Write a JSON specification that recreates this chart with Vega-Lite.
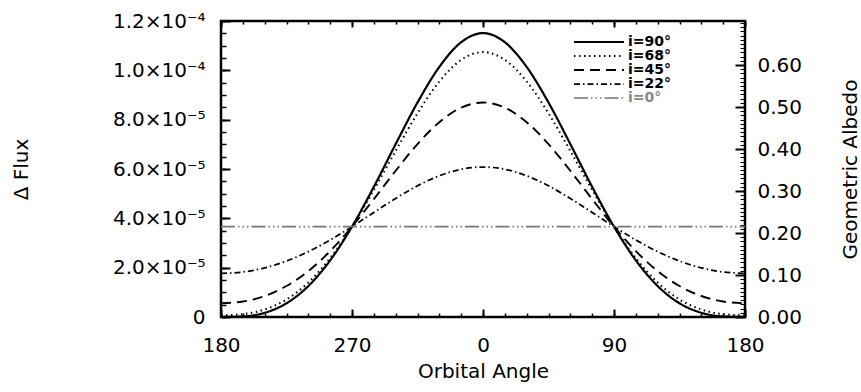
{
  "$schema": "https://vega.github.io/schema/vega-lite/v6.json",
  "width": 524,
  "height": 296,
  "autosize": {"type": "none"},
  "padding": {"left": 221, "top": 21, "right": 116, "bottom": 75},
  "background": "white",
  "config": {
    "font": "DejaVu Sans",
    "view": {"stroke": "#000000", "strokeWidth": 2.5, "strokeOpacity": 1},
    "axis": {
      "grid": false,
      "domain": false,
      "labelFont": "DejaVu Sans",
      "titleFont": "DejaVu Sans",
      "labelFontSize": 20,
      "titleFontSize": 20,
      "labelColor": "black",
      "titleColor": "black",
      "titleFontWeight": "normal",
      "tickColor": "#000000",
      "tickWidth": 2,
      "tickOpacity": 1,
      "labelFlush": false,
      "labelOverlap": false
    }
  },
  "datasets": {
    "curves": [
      {"angle": -180, "flux": 0, "inclination": "i=90°"},
      {"angle": -165, "flux": 0.022e-5, "inclination": "i=90°"},
      {"angle": -150, "flux": 0.171e-5, "inclination": "i=90°"},
      {"angle": -135, "flux": 0.556e-5, "inclination": "i=90°"},
      {"angle": -120, "flux": 1.255e-5, "inclination": "i=90°"},
      {"angle": -105, "flux": 2.297e-5, "inclination": "i=90°"},
      {"angle": -90, "flux": 3.664e-5, "inclination": "i=90°"},
      {"angle": -75, "flux": 5.276e-5, "inclination": "i=90°"},
      {"angle": -60, "flux": 7.010e-5, "inclination": "i=90°"},
      {"angle": -45, "flux": 8.695e-5, "inclination": "i=90°"},
      {"angle": -30, "flux": 10.138e-5, "inclination": "i=90°"},
      {"angle": -15, "flux": 11.139e-5, "inclination": "i=90°"},
      {"angle": 0, "flux": 11.510e-5, "inclination": "i=90°"},
      {"angle": 15, "flux": 11.139e-5, "inclination": "i=90°"},
      {"angle": 30, "flux": 10.138e-5, "inclination": "i=90°"},
      {"angle": 45, "flux": 8.695e-5, "inclination": "i=90°"},
      {"angle": 60, "flux": 7.010e-5, "inclination": "i=90°"},
      {"angle": 75, "flux": 5.276e-5, "inclination": "i=90°"},
      {"angle": 90, "flux": 3.664e-5, "inclination": "i=90°"},
      {"angle": 105, "flux": 2.297e-5, "inclination": "i=90°"},
      {"angle": 120, "flux": 1.255e-5, "inclination": "i=90°"},
      {"angle": 135, "flux": 0.556e-5, "inclination": "i=90°"},
      {"angle": 150, "flux": 0.171e-5, "inclination": "i=90°"},
      {"angle": 165, "flux": 0.022e-5, "inclination": "i=90°"},
      {"angle": 180, "flux": 0, "inclination": "i=90°"},

      {"angle": -180, "flux": 0.068e-5, "inclination": "i=68°"},
      {"angle": -165, "flux": 0.116e-5, "inclination": "i=68°"},
      {"angle": -150, "flux": 0.305e-5, "inclination": "i=68°"},
      {"angle": -135, "flux": 0.711e-5, "inclination": "i=68°"},
      {"angle": -120, "flux": 1.397e-5, "inclination": "i=68°"},
      {"angle": -105, "flux": 2.388e-5, "inclination": "i=68°"},
      {"angle": -90, "flux": 3.664e-5, "inclination": "i=68°"},
      {"angle": -75, "flux": 5.151e-5, "inclination": "i=68°"},
      {"angle": -60, "flux": 6.733e-5, "inclination": "i=68°"},
      {"angle": -45, "flux": 8.256e-5, "inclination": "i=68°"},
      {"angle": -30, "flux": 9.548e-5, "inclination": "i=68°"},
      {"angle": -15, "flux": 10.425e-5, "inclination": "i=68°"},
      {"angle": 0, "flux": 10.740e-5, "inclination": "i=68°"},
      {"angle": 15, "flux": 10.425e-5, "inclination": "i=68°"},
      {"angle": 30, "flux": 9.548e-5, "inclination": "i=68°"},
      {"angle": 45, "flux": 8.256e-5, "inclination": "i=68°"},
      {"angle": 60, "flux": 6.733e-5, "inclination": "i=68°"},
      {"angle": 75, "flux": 5.151e-5, "inclination": "i=68°"},
      {"angle": 90, "flux": 3.664e-5, "inclination": "i=68°"},
      {"angle": 105, "flux": 2.388e-5, "inclination": "i=68°"},
      {"angle": 120, "flux": 1.397e-5, "inclination": "i=68°"},
      {"angle": 135, "flux": 0.711e-5, "inclination": "i=68°"},
      {"angle": 150, "flux": 0.305e-5, "inclination": "i=68°"},
      {"angle": 165, "flux": 0.116e-5, "inclination": "i=68°"},
      {"angle": 180, "flux": 0.068e-5, "inclination": "i=68°"},

      {"angle": -180, "flux": 0.556e-5, "inclination": "i=45°"},
      {"angle": -165, "flux": 0.627e-5, "inclination": "i=45°"},
      {"angle": -150, "flux": 0.851e-5, "inclination": "i=45°"},
      {"angle": -135, "flux": 1.255e-5, "inclination": "i=45°"},
      {"angle": -120, "flux": 1.860e-5, "inclination": "i=45°"},
      {"angle": -105, "flux": 2.671e-5, "inclination": "i=45°"},
      {"angle": -90, "flux": 3.664e-5, "inclination": "i=45°"},
      {"angle": -75, "flux": 4.778e-5, "inclination": "i=45°"},
      {"angle": -60, "flux": 5.930e-5, "inclination": "i=45°"},
      {"angle": -45, "flux": 7.010e-5, "inclination": "i=45°"},
      {"angle": -30, "flux": 7.899e-5, "inclination": "i=45°"},
      {"angle": -15, "flux": 8.489e-5, "inclination": "i=45°"},
      {"angle": 0, "flux": 8.695e-5, "inclination": "i=45°"},
      {"angle": 15, "flux": 8.489e-5, "inclination": "i=45°"},
      {"angle": 30, "flux": 7.899e-5, "inclination": "i=45°"},
      {"angle": 45, "flux": 7.010e-5, "inclination": "i=45°"},
      {"angle": 60, "flux": 5.930e-5, "inclination": "i=45°"},
      {"angle": 75, "flux": 4.778e-5, "inclination": "i=45°"},
      {"angle": 90, "flux": 3.664e-5, "inclination": "i=45°"},
      {"angle": 105, "flux": 2.671e-5, "inclination": "i=45°"},
      {"angle": 120, "flux": 1.860e-5, "inclination": "i=45°"},
      {"angle": 135, "flux": 1.255e-5, "inclination": "i=45°"},
      {"angle": 150, "flux": 0.851e-5, "inclination": "i=45°"},
      {"angle": 165, "flux": 0.627e-5, "inclination": "i=45°"},
      {"angle": 180, "flux": 0.556e-5, "inclination": "i=45°"},

      {"angle": -180, "flux": 1.768e-5, "inclination": "i=22°"},
      {"angle": -165, "flux": 1.824e-5, "inclination": "i=22°"},
      {"angle": -150, "flux": 1.991e-5, "inclination": "i=22°"},
      {"angle": -135, "flux": 2.269e-5, "inclination": "i=22°"},
      {"angle": -120, "flux": 2.651e-5, "inclination": "i=22°"},
      {"angle": -105, "flux": 3.123e-5, "inclination": "i=22°"},
      {"angle": -90, "flux": 3.664e-5, "inclination": "i=22°"},
      {"angle": -75, "flux": 4.239e-5, "inclination": "i=22°"},
      {"angle": -60, "flux": 4.807e-5, "inclination": "i=22°"},
      {"angle": -45, "flux": 5.318e-5, "inclination": "i=22°"},
      {"angle": -30, "flux": 5.725e-5, "inclination": "i=22°"},
      {"angle": -15, "flux": 5.989e-5, "inclination": "i=22°"},
      {"angle": 0, "flux": 6.080e-5, "inclination": "i=22°"},
      {"angle": 15, "flux": 5.989e-5, "inclination": "i=22°"},
      {"angle": 30, "flux": 5.725e-5, "inclination": "i=22°"},
      {"angle": 45, "flux": 5.318e-5, "inclination": "i=22°"},
      {"angle": 60, "flux": 4.807e-5, "inclination": "i=22°"},
      {"angle": 75, "flux": 4.239e-5, "inclination": "i=22°"},
      {"angle": 90, "flux": 3.664e-5, "inclination": "i=22°"},
      {"angle": 105, "flux": 3.123e-5, "inclination": "i=22°"},
      {"angle": 120, "flux": 2.651e-5, "inclination": "i=22°"},
      {"angle": 135, "flux": 2.269e-5, "inclination": "i=22°"},
      {"angle": 150, "flux": 1.991e-5, "inclination": "i=22°"},
      {"angle": 165, "flux": 1.824e-5, "inclination": "i=22°"},
      {"angle": 180, "flux": 1.768e-5, "inclination": "i=22°"},

      {"angle": -180, "flux": 3.664e-5, "inclination": "i=0°"},
      {"angle": 180, "flux": 3.664e-5, "inclination": "i=0°"}
    ]
  },
  "data": {"name": "curves"},
  "resolve": {
    "scale": {"y": "independent"},
    "axis": {"x": "independent", "y": "independent"}
  },
  "layer": [
    {
      "mark": {"type": "line", "interpolate": "monotone"},
      "encoding": {
        "x": {
          "field": "angle", "type": "quantitative",
          "scale": {"domain": [-180, 180], "nice": false, "zero": false},
          "axis": {
            "orient": "bottom",
            "values": [-180, -90, 0, 90, 180],
            "labelExpr": "'' + (datum.value < 0 ? datum.value + 360 : datum.value)",
            "offset": -8,
            "tickSize": 8,
            "labelPadding": 18,
            "title": "Orbital Angle",
            "titlePadding": 6
          }
        },
        "y": {
          "field": "flux", "type": "quantitative",
          "scale": {"domain": [0, 0.00012], "nice": false, "zero": false},
          "axis": {
            "orient": "left",
            "values": [0, 0.00002, 0.00004, 0.00006, 0.00008, 0.0001, 0.00012],
            "labelExpr": "datum.value < 1e-6 ? '0' : datum.value < 9e-5 ? format(datum.value * 1e5, '.1f') + '×10⁻⁵' : format(datum.value * 1e4, '.1f') + '×10⁻⁴'",
            "offset": -9,
            "tickSize": 9,
            "labelPadding": 16,
            "title": "Δ Flux",
            "titlePadding": 81
          }
        },
        "strokeDash": {
          "field": "inclination", "type": "nominal",
          "scale": {
            "domain": ["i=90°", "i=68°", "i=45°", "i=22°", "i=0°"],
            "range": [[1, 0], [1.5, 3.5], [10, 6], [6, 3, 1.5, 3], [14, 3, 1.5, 3, 1.5, 3, 1.5, 3]]
          },
          "legend": {
            "orient": "none",
            "legendX": 371,
            "legendY": 14,
            "title": null,
            "padding": 0,
            "symbolType": "M-5,0H5",
            "symbolSize": 100,
            "labelOffset": 22,
            "rowPadding": 0,
            "labelFont": "DejaVu Sans",
            "labelFontSize": 14,
            "labelFontWeight": "bold",
            "labelColor": "black",
            "encode": {
              "labels": {"update": {"fill": {"signal": "datum.label == 'i=0°' ? '#888888' : '#000000'"}}}
            }
          }
        },
        "strokeWidth": {
          "field": "inclination", "type": "nominal",
          "scale": {
            "domain": ["i=90°", "i=68°", "i=45°", "i=22°", "i=0°"],
            "range": [2.2, 1.6, 1.5, 1.2, 1.2]
          }
        },
        "color": {
          "field": "inclination", "type": "nominal",
          "scale": {
            "domain": ["i=90°", "i=68°", "i=45°", "i=22°", "i=0°"],
            "range": ["#000000", "#000000", "#000000", "#000000", "#777777"]
          }
        }
      }
    },
    {
      "mark": {"type": "line", "opacity": 0},
      "encoding": {
        "x": {
          "field": "angle", "type": "quantitative",
          "axis": {
            "orient": "bottom",
            "values": [-180, -165, -150, -135, -120, -105, -90, -75, -60, -45, -30, -15, 0, 15, 30, 45, 60, 75, 90, 105, 120, 135, 150, 165, 180],
            "offset": -4, "tickSize": 4, "tickWidth": 1.5, "labels": false, "title": null
          }
        },
        "y": {
          "field": "flux", "type": "quantitative",
          "scale": {"domain": [0, 0.00012], "nice": false, "zero": false},
          "axis": {"orient": "left", "tickCount": 24, "offset": -5, "tickSize": 5, "tickWidth": 1.5, "labels": false, "title": null}
        }
      }
    },
    {
      "mark": {"type": "line", "opacity": 0},
      "encoding": {
        "x": {
          "field": "angle", "type": "quantitative",
          "axis": {"orient": "top", "values": [-180, -90, 0, 90, 180], "offset": -6, "tickSize": 6, "labels": false, "title": null}
        },
        "y": {
          "field": "flux", "type": "quantitative",
          "scale": {"domain": [0, 0.705], "nice": false, "zero": false},
          "axis": {
            "orient": "right",
            "values": [0, 0.1, 0.2, 0.3, 0.4, 0.5, 0.6],
            "format": ".2f",
            "offset": -10,
            "tickSize": 10,
            "labelPadding": 12,
            "title": "Geometric Albedo",
            "titleAngle": 270,
            "titleBaseline": "top",
            "titlePadding": 39
          }
        }
      }
    },
    {
      "mark": {"type": "line", "opacity": 0},
      "encoding": {
        "x": {
          "field": "angle", "type": "quantitative",
          "axis": {
            "orient": "top",
            "values": [-180, -165, -150, -135, -120, -105, -90, -75, -60, -45, -30, -15, 0, 15, 30, 45, 60, 75, 90, 105, 120, 135, 150, 165, 180],
            "offset": -3, "tickSize": 3, "tickWidth": 1.5, "labels": false, "title": null
          }
        },
        "y": {
          "field": "flux", "type": "quantitative",
          "scale": {"domain": [0, 0.705], "nice": false, "zero": false},
          "axis": {"orient": "right", "tickCount": 70, "offset": -5, "tickSize": 5, "tickWidth": 1, "labels": false, "title": null}
        }
      }
    }
  ]
}
